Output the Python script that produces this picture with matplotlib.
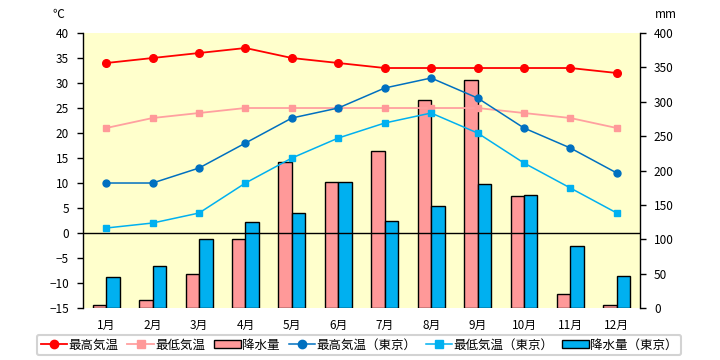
import numpy as np
import matplotlib
matplotlib.use('Agg')
import matplotlib.pyplot as plt
from matplotlib.lines import Line2D
from matplotlib.patches import Patch

plt.rcParams['font.family'] = ['Noto Sans CJK JP', 'DejaVu Sans']

months = ['1月', '2月', '3月', '4月', '5月', '6月', '7月', '8月', '9月', '10月', '11月', '12月']

# local city
t_max = [34, 35, 36, 37, 35, 34, 33, 33, 33, 33, 33, 32]
t_min = [21, 23, 24, 25, 25, 25, 25, 25, 25, 24, 23, 21]
precip = [4, 12, 50, 101, 212, 183, 229, 302, 331, 163, 20, 4]

# Tokyo
tk_max = [10, 10, 13, 18, 23, 25, 29, 31, 27, 21, 17, 12]
tk_min = [1, 2, 4, 10, 15, 19, 22, 24, 20, 14, 9, 4]
tk_precip = [45, 61, 100, 125, 138, 184, 126, 148, 180, 164, 90, 46]

RED = '#FF0000'
PINK = '#FF9999'
BLUE = '#0070C0'
LBLUE = '#00B0F0'

fig = plt.figure(figsize=(7.2, 3.6), dpi=100)
ax = fig.add_axes([0.1153, 0.1444, 0.7736, 0.7639])
ax2 = ax.twinx()

x = np.arange(len(months))
w = 0.29

# bars on the mm axis, drawn underneath
ax2.bar(x - w/2, precip, width=w, color=PINK, edgecolor='black', linewidth=1, zorder=2)
ax2.bar(x + w/2, tk_precip, width=w, color=LBLUE, edgecolor='black', linewidth=1, zorder=2)
ax2.set_ylim(0, 400)
ax2.set_yticks(np.arange(0, 401, 50))

ax.set_zorder(ax2.get_zorder() + 1)
ax.patch.set_visible(False)
ax2.patch.set_visible(True)
ax2.patch.set_facecolor('#FFFFCC')

ax.axhline(0, color='black', linewidth=1, zorder=1)
ax.plot(x, t_max, color=RED, lw=1.3, marker='o', ms=5.5, zorder=3)
ax.plot(x, t_min, color='#FFA0A0', lw=1.3, marker='s', ms=5, mfc=PINK, mec=PINK, zorder=3)
ax.plot(x, tk_max, color=BLUE, lw=1.1, marker='o', ms=5, zorder=3)
ax.plot(x, tk_min, color=LBLUE, lw=1.1, marker='s', ms=5, zorder=3)

ax.set_ylim(-15, 40)
ax.set_yticks(np.arange(-15, 41, 5))
ax.set_xlim(-0.5, 11.5)
ax.set_xticks(x)
ax.set_xticklabels(months)

for a in (ax, ax2):
    a.spines['top'].set_visible(False)
    a.spines['bottom'].set_visible(False)
    a.tick_params(axis='x', length=0, pad=8, labelsize=8.5)
    a.tick_params(axis='y', length=4, width=1, direction='out', labelsize=8.5, pad=6)
ax.spines['right'].set_visible(False)
ax2.spines['left'].set_visible(False)
ax.spines['left'].set_linewidth(1)
ax2.spines['right'].set_linewidth(1)

fig.text(58/720, 1 - 15/360, '℃', fontsize=8.5, ha='center', va='center')
fig.text(666/720, 1 - 15/360, 'mm', fontsize=8.5, ha='center', va='center')

handles = [
    Line2D([], [], color=RED, lw=1.3, marker='o', ms=6),
    Line2D([], [], color='#FFA0A0', lw=1.3, marker='s', ms=6, mfc=PINK, mec=PINK),
    Patch(facecolor=PINK, edgecolor='black', linewidth=1),
    Line2D([], [], color=BLUE, lw=1.1, marker='o', ms=6),
    Line2D([], [], color=LBLUE, lw=1.1, marker='s', ms=6),
    Patch(facecolor=LBLUE, edgecolor='black', linewidth=1),
]
labels = ['最高気温', '最低気温', '降水量', '最高気温（東京）', '最低気温（東京）', '降水量（東京）']
leg = fig.legend(handles, labels, loc='center', bbox_to_anchor=(359/720, 1 - 345/360), ncol=6,
                 fontsize=9, handlelength=2.1, handletextpad=0.1, columnspacing=0.75,
                 frameon=True, fancybox=True, borderpad=0.3, handleheight=0.6)
leg.get_frame().set_edgecolor('#C8C8C8')
leg.get_frame().set_linewidth(1.5)

fig.savefig('out.png', dpi=100)
